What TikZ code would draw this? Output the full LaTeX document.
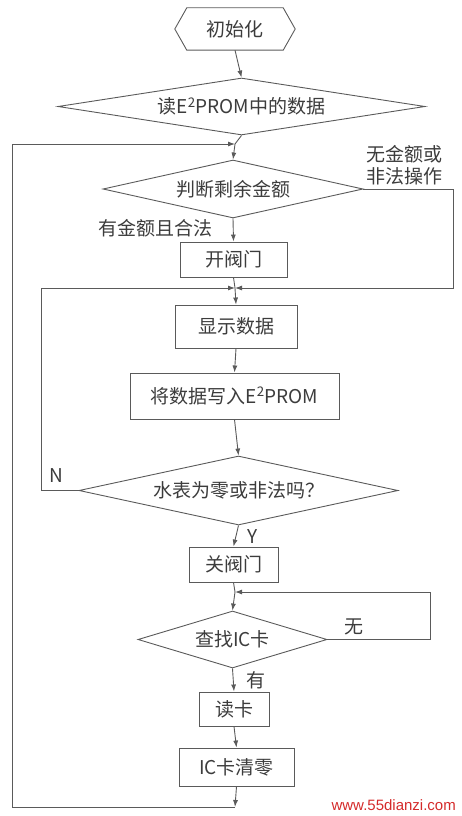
\documentclass[tikz,border=0pt]{standalone}
\usepackage{fontspec}
\setmainfont{Noto Sans CJK SC}
\newfontfamily\wmfont{Liberation Sans}
\usetikzlibrary{shapes.geometric,arrows.meta}
\definecolor{ln}{HTML}{5A5A5A}
\definecolor{tx}{HTML}{3C3C3C}
\definecolor{wm}{HTML}{D42A2A}
\tikzset{
  every node/.style={text=tx,font=\fontsize{19}{22}\selectfont,inner sep=0pt},
  procbox/.style={draw=ln,line width=0.9pt,rectangle},
  decbox/.style={draw=ln,line width=0.9pt,diamond},
  lab/.style={text=tx},
  conn/.style={draw=ln,line width=0.9pt},
  arr/.style={conn,-{Latex[length=7pt,width=5pt]}}
}
\begin{document}
\begin{tikzpicture}[x=1pt,y=-1pt]
\useasboundingbox (0,0) rectangle (461,816);
% nodes
\node[minimum width=120pt,minimum height=42pt] (init) at (235,29) {初始化};
\draw[conn] (init.west) -- ([xshift=12pt]init.north west) -- ([xshift=-12pt]init.north east)
  -- (init.east) -- ([xshift=-12pt]init.south east) -- ([xshift=12pt]init.south west) -- cycle;
\node[decbox,aspect=6.4,minimum width=367pt,minimum height=57pt] (d1) at (241.5,106.5) {读E\textsuperscript{2}PROM中的数据};
\node[decbox,aspect=4.48,minimum width=260pt,minimum height=58pt] (d2) at (233,189) {判断剩余金额};
\node[procbox,minimum width=107pt,minimum height=35pt] (open) at (233.5,259.5) {开阀门};
\node[procbox,minimum width=122pt,minimum height=43pt] (disp) at (236,326.5) {显示数据};
\node[procbox,minimum width=209pt,minimum height=46pt] (write) at (234.5,396) {将数据写入E\textsuperscript{2}PROM};
\node[decbox,aspect=4.6,minimum width=319pt,minimum height=69pt] (d3) at (238.5,490.5) {水表为零或非法吗？};
\node[procbox,minimum width=89pt,minimum height=35pt] (close) at (233.5,564.5) {关阀门};
\node[decbox,aspect=3.3,minimum width=189pt,minimum height=57pt] (d4) at (232.5,639.5) {查找IC卡};
\node[procbox,minimum width=70pt,minimum height=34pt] (read) at (234,709) {读卡};
\node[procbox,minimum width=115pt,minimum height=38pt] (clear) at (236.5,767) {IC卡清零};
% junctions
\coordinate (j1) at (235,144);
\coordinate (j2) at (235,288);
\coordinate (j3) at (235,592);
\coordinate (jb) at (235,807);
\coordinate (bl) at (12,807);
\coordinate (r2) at (453,189);
\coordinate (l3) at (41,490.5);
\coordinate (r4) at (430,639.5);
% labels
\node[lab,align=left,anchor=west] (lno) at (366,165) {无金额或\\非法操作};
\node[lab,anchor=center] (lyes) at (155,228) {有金额且合法};
\node[lab] (ln) at (56,476) {N};
\node[lab] (ly) at (253,537) {Y};
\node[lab] (lwu) at (354,627) {无};
\node[lab] (lyou) at (256,680) {有};
\node[text=wm,font=\wmfont\fontsize{15}{17}\selectfont,anchor=east] (wmark) at (456,805) {www.55dianzi.com};
% connectors
\draw[arr] (init.south) -- (d1.north);
\draw[conn] (d1.south) -- (j1);
\draw[arr] (j1) -- (d2.north);
\draw[arr] (d2.south) -- (open.north);
\draw[arr] (d2.east) -- (r2) |- (j2);
\draw[conn] (open.south) -- (j2);
\draw[arr] (j2) -- (disp.north);
\draw[arr] (disp.south) -- (write.north);
\draw[arr] (write.south) -- (d3.north);
\draw[arr] (d3.west) -- (l3) |- (j2);
\draw[arr] (d3.south) -- (close.north);
\draw[conn] (close.south) -- (j3);
\draw[arr] (j3) -- (d4.north);
\draw[arr] (d4.east) -- (r4) |- (j3);
\draw[arr] (d4.south) -- (read.north);
\draw[arr] (read.south) -- (clear.north);
\draw[arr] (clear.south) -- (jb);
\draw[arr] (jb) -- (bl) |- (j1);
\end{tikzpicture}
\end{document}
